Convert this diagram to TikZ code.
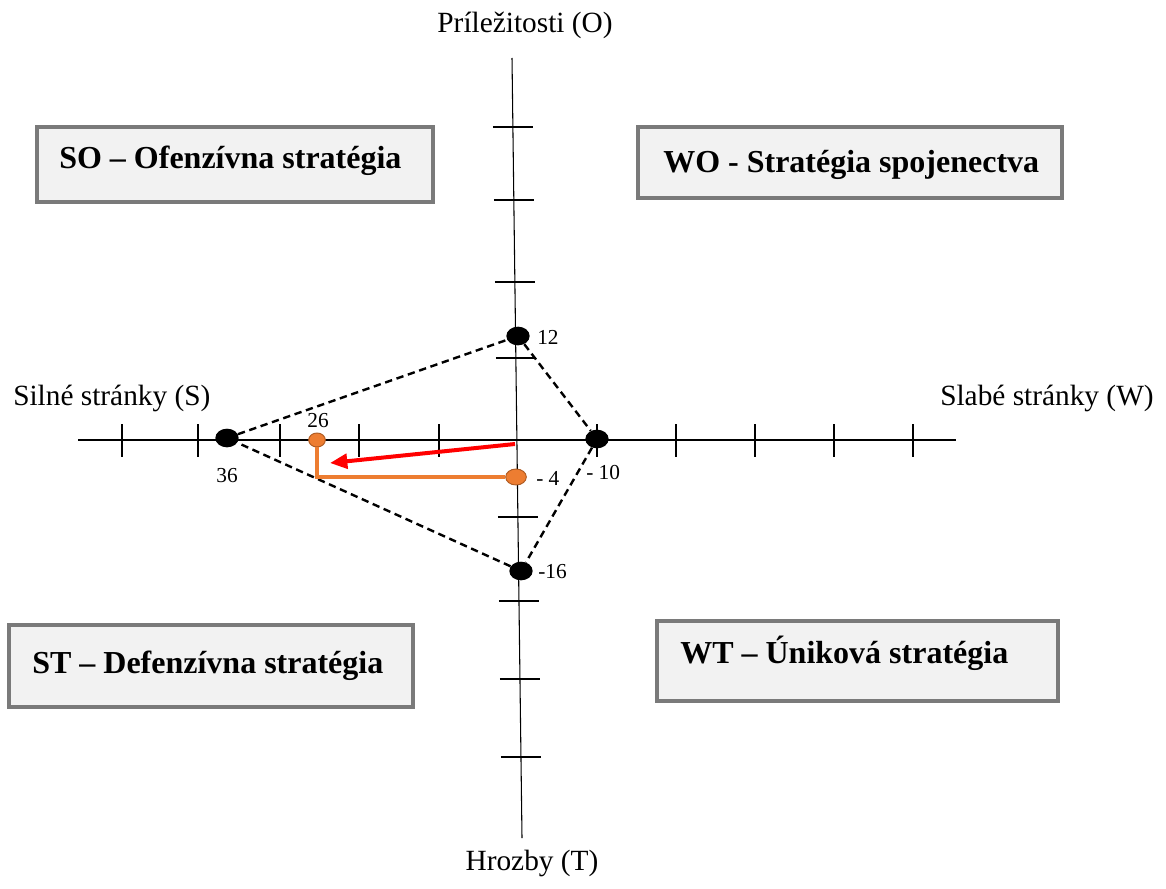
\documentclass[tikz,border=0pt]{standalone}
\usepackage{fontspec}
\setmainfont{Liberation Serif}
\usepackage{tikz}
\usetikzlibrary{arrows.meta, shapes.geometric, fit}
\definecolor{boxfill}{HTML}{F2F2F2}
\definecolor{boxline}{HTML}{7A7A7A}
\definecolor{swotorange}{HTML}{ED7D31}
\definecolor{swotorangedark}{HTML}{AE5A21}

\begin{document}
\begin{tikzpicture}[x=0.75pt, y=-0.75pt,
  axisline/.style={line width=0.8pt, color=black},
  stratbox/.style={draw=boxline, fill=boxfill, line width=2.4pt, inner sep=0pt},
  strattext/.style={anchor=base west, inner sep=0pt, font=\fontsize{24}{28}\selectfont\bfseries},
  axislabel/.style={inner sep=0pt, font=\fontsize{22}{26}\selectfont},
  vallabel/.style={inner sep=0pt, font=\fontsize{16}{19}\selectfont},
  bigdot/.style={ellipse, fill=black, minimum width=17.5pt, minimum height=14pt, inner sep=0pt},
  smalldot/.style={ellipse, fill=swotorange, draw=swotorangedark, line width=0.7pt, inner sep=0pt},
  hull/.style={dash pattern=on 5.5pt off 3.5pt, line width=1.8pt}]
\useasboundingbox (0,0) rectangle (1166,888);

\node[stratbox, fit={(37,127) (433,202)}] (so) {};
\node[stratbox, fit={(638,127) (1062,198)}] (wo) {};
\node[stratbox, fit={(9,625) (413,707)}] (st) {};
\node[stratbox, fit={(657,621) (1058,701)}] (wt) {};
\node[strattext] (soText) at (59,169) {SO – Ofenzívna stratégia};
\node[strattext] (woText) at (663,172) {WO - Stratégia spojenectva};
\node[strattext] (stText) at (32,673) {ST – Defenzívna stratégia};
\node[strattext] (wtText) at (680,663) {WT – Úniková stratégia};

\coordinate (oEnd) at (512,58);
\coordinate (tEnd) at (522,838);
\coordinate (sEnd) at (78,440);
\coordinate (wEnd) at (956,440);
\draw[axisline] (sEnd) -- (wEnd);
\draw[axisline] (oEnd) -- (tEnd);
\foreach \x in {122,198,280,359,439,597,676,755,834,913}
  \draw[axisline] (\x,424) -- (\x,457);
\foreach \y in {127,200,282,358,517,601,679,757}{
  \pgfmathsetmacro{\xa}{512+(\y-58)*10/780}
  \draw[axisline] (\xa-20,\y) -- (\xa+20,\y);
}

\node[axislabel, anchor=base] (oLabel) at (525,33) {Príležitosti (O)};
\node[axislabel, anchor=base] (tLabel) at (532,870) {Hrozby (T)};
\node[axislabel, anchor=base west] (sLabel) at (13,405) {Silné stránky (S)};
\node[axislabel, anchor=base west] (wLabel) at (940,405) {Slabé stránky (W)};

\node[bigdot] (d12) at (518,336) {};
\node[bigdot] (d10) at (597,439) {};
\node[bigdot] (d36) at (227,438) {};
\node[bigdot] (d16) at (521,571) {};
\node[smalldot, minimum width=12.5pt, minimum height=10.5pt] (p26) at (317,440) {};
\node[smalldot, minimum width=15.5pt, minimum height=12pt] (pm4) at (516,477) {};

\node[vallabel, anchor=west] (l12) at (537,337) {12};
\node[vallabel, anchor=west] (l10) at (586,473) {- 10};
\node[vallabel] (l36) at (227,476) {36};
\node[vallabel, anchor=west] (l16) at (538,572) {-16};
\node[vallabel] (l26) at (318,421) {26};
\node[vallabel, anchor=west] (l4) at (536,478) {- 4};

\draw[hull] (d36) -- (d12) -- (d10) -- (d16) -- (d36);

\coordinate (arrowStart) at (515,444);
\coordinate (arrowEnd) at (330,463);
\draw[red, line width=3pt, -{Triangle[length=13pt, width=11pt]}] (arrowStart) -- (arrowEnd);
\draw[swotorange, line width=3pt] (p26) |- (pm4);
\end{tikzpicture}
\end{document}
